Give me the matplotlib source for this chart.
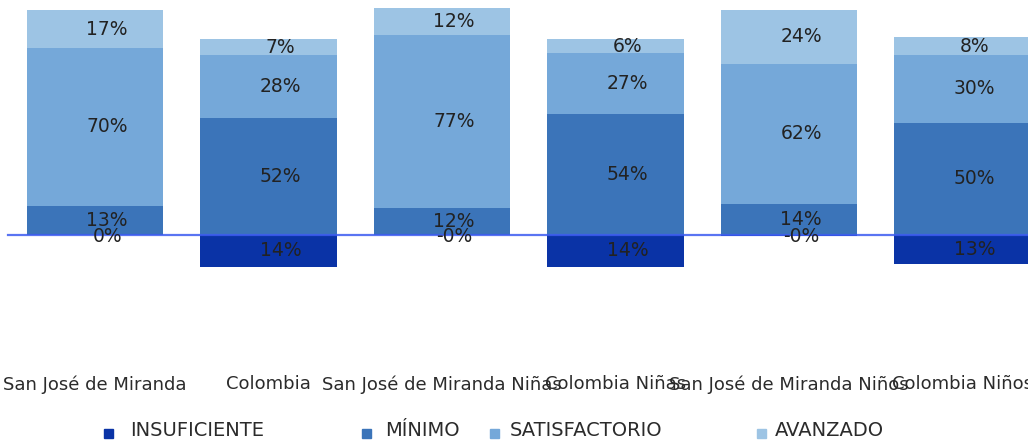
import matplotlib
matplotlib.use("Agg")
import matplotlib.pyplot as plt
from matplotlib.patches import Rectangle

plt.rcParams['font.family'] = ['DejaVu Sans']

categories = ["San José de Miranda", "Colombia", "San José de Miranda Niñas",
              "Colombia Niñas", "San José de Miranda Niños", "Colombia Niños"]
insuficiente = [0.0, -14, -0.2, -14, -0.3, -13]
minimo = [13, 52, 12, 54, 14, 50]
satisfactorio = [70, 28, 77, 27, 62, 30]
avanzado = [17, 7, 12, 6, 24, 8]
series_names = ["INSUFICIENTE", "MÍNIMO", "SATISFACTORIO", "AVANZADO"]
colors = ["#0a33a6", "#3b74b9", "#75a8d9", "#9dc4e4"]

W, H = 1028, 446
fig = plt.figure(figsize=(W / 100, H / 100), dpi=100)

# axes spans full width; zero line sits at pixel row 235, 2.25 px per percent
ax_top_px, ax_bot_px = 0, 360
ax = fig.add_axes([0, 1 - ax_bot_px / H, 1, (ax_bot_px - ax_top_px) / H])
ppu = 2.25
ax.set_ylim(-(ax_bot_px - 235) / ppu, (235 - ax_top_px) / ppu)
step = 173.5
ax.set_xlim(-95 / step, (W - 95) / step)

x = list(range(len(categories)))
bw = 0.784
lbl_dx = 0.07
txt_kw = dict(ha="center", va="center", fontsize=13.5, color="#222222")

ax.bar(x, insuficiente, bw, color=colors[0], zorder=2)
bottom = [0] * len(x)
for vals, c in zip([minimo, satisfactorio, avanzado], colors[1:]):
    ax.bar(x, vals, bw, bottom=bottom, color=c, zorder=2)
    for i, v in enumerate(vals):
        ax.text(i + lbl_dx, bottom[i] + v / 2, f"{v:.0f}%", zorder=4, **txt_kw)
    bottom = [b + v for b, v in zip(bottom, vals)]

for i, v in enumerate(insuficiente):
    lab = f"{abs(v):.0f}%" if round(v) != 0 else f"{v:.0f}%"
    ax.text(i + lbl_dx, v / 2 if round(v) != 0 else -0.8, lab, zorder=4, **txt_kw)

ax.plot([-0.5, 6], [0, 0], color="#3d5cf0", lw=1.6, alpha=0.85, zorder=3)

ax.set_xticks(x)
ax.set_xticklabels(categories, fontsize=13, color="#2b2b2b")
ax.tick_params(axis="x", length=0, pad=11)
ax.set_yticks([])
for s in ax.spines.values():
    s.set_visible(False)

# legend row
sq_y, txt_y = 433, 431
sq_x = [108, 366, 494, 761]
tx_x = [130, 385, 510, 775]
sq = 9
for name, c, sx, tx in zip(series_names, colors, sq_x, tx_x):
    fig.patches.append(Rectangle(((sx - sq / 2) / W, 1 - (sq_y + sq / 2) / H), sq / W, sq / H,
                                 transform=fig.transFigure, color=c))
    fig.text(tx / W, 1 - txt_y / H, name, fontsize=14, color="#2b2b2b",
             ha="left", va="center")

fig.savefig("out.png", dpi=100)
